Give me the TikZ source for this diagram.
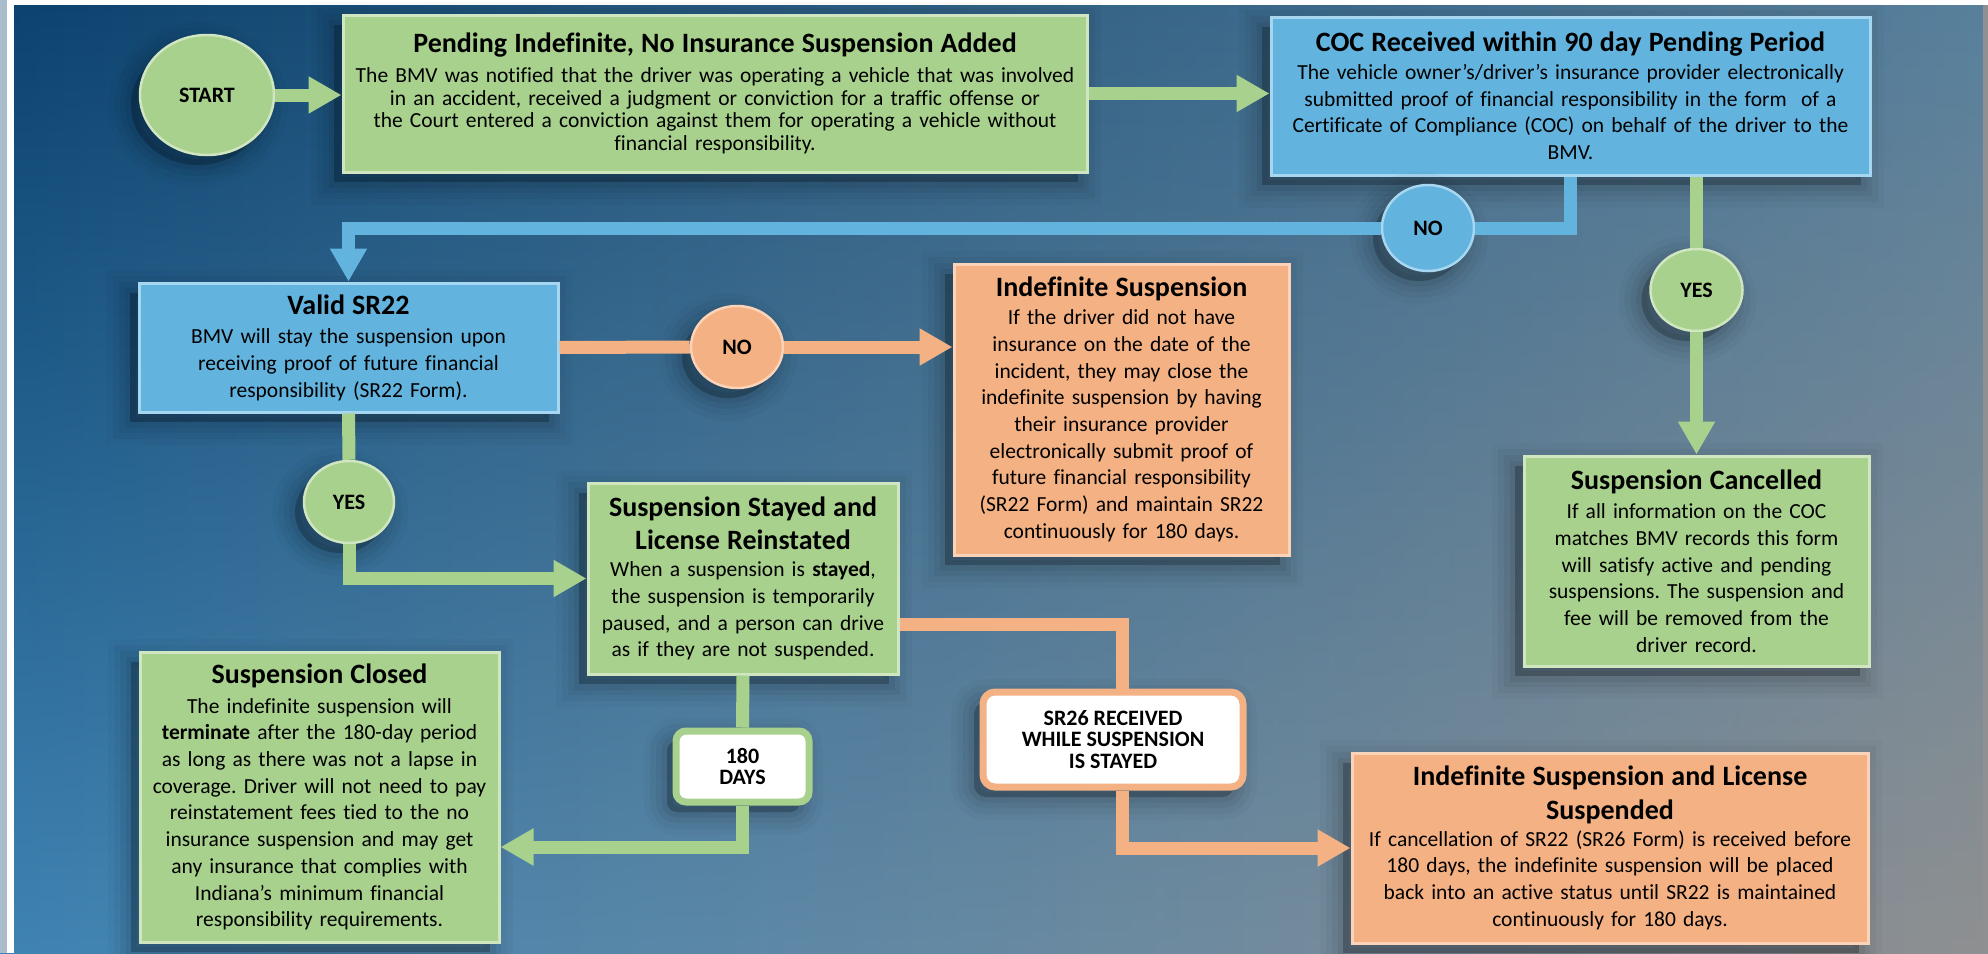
\documentclass[tikz,border=0pt]{standalone}
\usepackage{fontspec}
\setmainfont{Carlito}[Ligatures=CommonOff]
\usetikzlibrary{shapes.geometric,arrows.meta,calc,fadings}
\definecolor{cg}{HTML}{A9D18E}
\definecolor{cgl}{HTML}{CFE6C0}
\definecolor{cb}{HTML}{62B3DE}
\definecolor{cbl}{HTML}{A6D6F0}
\definecolor{co}{HTML}{F4B183}
\definecolor{col}{HTML}{FAD3B8}
\definecolor{bgTL}{HTML}{0B426E}
\definecolor{bgTR}{HTML}{58809C}
\definecolor{bgBL}{HTML}{3F84B4}
\definecolor{bgBR}{HTML}{8F9091}
\definecolor{stripc}{HTML}{A9BCCB}
\tikzfading[name=fadedown, top color=transparent!0, bottom color=transparent!100]
\newcommand\ttl[2][3pt]{{\fontsize{28}{33.6}\selectfont\bfseries #2\par}\vspace{#1}}
\frenchspacing
\begin{document}
\begin{tikzpicture}[x=1pt,y=-1pt,
  sh/.style={transform canvas={xshift=-9pt,yshift=-10pt}},
  shadowed/.style={
    preaction={draw=black, fill=black, line width=46pt, opacity=0.025, sh},
    preaction={draw=black, fill=black, line width=34pt, opacity=0.035, sh},
    preaction={draw=black, fill=black, line width=22pt, opacity=0.045, sh},
    preaction={draw=black, fill=black, line width=11pt, opacity=0.055, sh},
    preaction={fill=black, opacity=0.08, sh}},
  box/.style={rectangle, shadowed, line width=3pt, inner sep=0pt, align=center,
    font=\fontsize{21.5}{26.7}\selectfont, text=black},
  gbox/.style={box, fill=cg, draw=cgl},
  bbox/.style={box, fill=cb, draw=cbl},
  obox/.style={box, fill=co, draw=col},
  circ/.style={ellipse, shadowed, inner sep=0pt, line width=2.5pt,
    font=\fontsize{22}{24}\selectfont\bfseries, text=black},
  tag/.style={rectangle, rounded corners=12pt, shadowed, fill=white, line width=7pt,
    inner sep=0pt, align=center, font=\fontsize{22}{21.7}\selectfont\bfseries, text=black},
  gline/.style={draw=cg, line width=13pt},
  bline/.style={draw=cb, line width=13pt},
  oline/.style={draw=co, line width=13pt},
  tip/.style={-{Triangle[width=35pt,length=33pt]}},
]
\useasboundingbox (0,0) rectangle (1988,953);
% background
\shade[left color=bgBL, right color=bgBR] (0,0) rectangle (1988,953);
\shade[left color=bgTL, right color=bgTR, path fading=fadedown] (0,0) rectangle (1988,953);
\fill[white] (0,0) rectangle (1988,5);
\fill[stripc] (0,0) rectangle (7,953);
\fill[white] (7,5) rectangle (14,953);

% nodes
\node[circ, fill=cg, draw=cgl, minimum width=134pt, minimum height=120pt] (start) at (207,95) {START};

\node[gbox, minimum width=744pt, minimum height=157pt, text width=736pt,
  font=\fontsize{21.5}{22.8}\selectfont] (pend) at (715,93.5)
  {\ttl[7pt]{Pending Indefinite, No Insurance Suspension Added}The BMV was notified that the driver was operating a vehicle that was involved\\
   in an accident, received a judgment or conviction for a traffic offense or\\
   the Court entered a conviction against them for operating a vehicle without\\
   financial responsibility.};

\node[bbox, minimum width=599pt, minimum height=158pt, text width=590pt] (coc) at (1570.5,96)
  {\ttl[1pt]{COC Received within 90 day Pending Period}The vehicle owner’s/driver's insurance provider electronically\\
   submitted proof of financial responsibility in the form~ of a\\
   Certificate of Compliance (COC) on behalf of the driver to the\\
   BMV.};

\node[circ, fill=cb, draw=cbl, minimum width=92pt, minimum height=86pt] (no1) at (1428,228) {NO};
\node[circ, fill=cg, draw=cgl, minimum width=92pt, minimum height=82pt] (yes1) at (1696.5,290) {YES};

\node[bbox, minimum width=419pt, minimum height=129pt, text width=410pt] (sr22) at (348.5,347.5)
  {\ttl{Valid SR22}BMV will stay the suspension upon\\
   receiving proof of future financial\\
   responsibility (SR22 Form).};

\node[circ, fill=co, draw=col, minimum width=92pt, minimum height=82pt] (no2) at (737,347) {NO};

\node[obox, minimum width=335pt, minimum height=291pt, text width=330pt] (indef) at (1121.5,409.5)
  {\ttl[1pt]{Indefinite Suspension}If the driver did not have\\
   insurance on the date of the\\
   incident, they may close the\\
   indefinite suspension by having\\
   their insurance provider\\
   electronically submit proof of\\
   future financial responsibility\\
   (SR22 Form) and maintain SR22\\
   continuously for 180 days.};

\node[gbox, minimum width=345pt, minimum height=210pt, text width=340pt] (canc) at (1696.5,561)
  {\ttl{Suspension Cancelled}If all information on the COC\\
   matches BMV records this form\\
   will satisfy active and pending\\
   suspensions. The suspension and\\
   fee will be removed from the\\
   driver record.};

\node[circ, fill=cg, draw=cgl, minimum width=90pt, minimum height=82pt] (yes2) at (349,502) {YES};

\node[gbox, minimum width=310pt, minimum height=191pt, text width=306pt] (stayed) at (743,578.5)
  {\ttl[0pt]{Suspension Stayed and\\ License Reinstated}When a suspension is \textbf{stayed},\\
   the suspension is temporarily\\
   paused, and a person can drive\\
   as if they are not suspended.};

\node[gbox, minimum width=359pt, minimum height=290pt, text width=356pt] (closed) at (319.5,797)
  {\ttl{Suspension Closed}The indefinite suspension will\\
   \textbf{terminate} after the 180-day period\\
   as long as there was not a lapse in\\
   coverage. Driver will not need to pay\\
   reinstatement fees tied to the no\\
   insurance suspension and may get\\
   any insurance that complies with\\
   Indiana’s minimum financial\\
   responsibility requirements.};

\node[tag, draw=cg, rounded corners=10pt, minimum width=133pt, minimum height=71pt] (days) at (742.5,766.5)
  {180\\ DAYS};

\node[tag, draw=co, minimum width=260pt, minimum height=95pt] (sr26) at (1113,739.5)
  {SR26 RECEIVED\\ WHILE SUSPENSION\\ IS STAYED};

\node[obox, minimum width=516pt, minimum height=190pt, text width=510pt] (il) at (1610,848)
  {\ttl[0pt]{Indefinite Suspension and License\\ Suspended}If cancellation of SR22 (SR26 Form) is received before\\
   180 days, the indefinite suspension will be placed\\
   back into an active status until SR22 is maintained\\
   continuously for 180 days.};

% connectors
\draw[gline, tip] (start.east) -- (start.east -| pend.west);
\draw[gline, tip] (pend.east) -- (pend.east -| coc.west);
\draw[bline] (coc.south) |- (no1.east);
\draw[bline, tip] (no1.west) -| (sr22.north);
\draw[gline] (yes1.north |- coc.south) -- (yes1.north);
\draw[gline, tip] (yes1.south) -- (canc.north);
\draw[oline] (sr22.east) -- (no2.west);
\draw[oline, tip] (no2.east) -- (no2.east -| indef.west);
\draw[gline] (sr22.south) -- (yes2.north);
\draw[gline, tip] (yes2.south) |- (stayed.west);
\draw[gline] (stayed.south) -- (days.north);
\draw[gline, tip] (days.south) |- ([yshift=-50pt]closed.east);
\draw[oline] ([yshift=-46pt]stayed.east) -| ([xshift=9pt]sr26.north);
\draw[oline, tip] ([xshift=9pt]sr26.south) |- (il.west);
\end{tikzpicture}
\end{document}
